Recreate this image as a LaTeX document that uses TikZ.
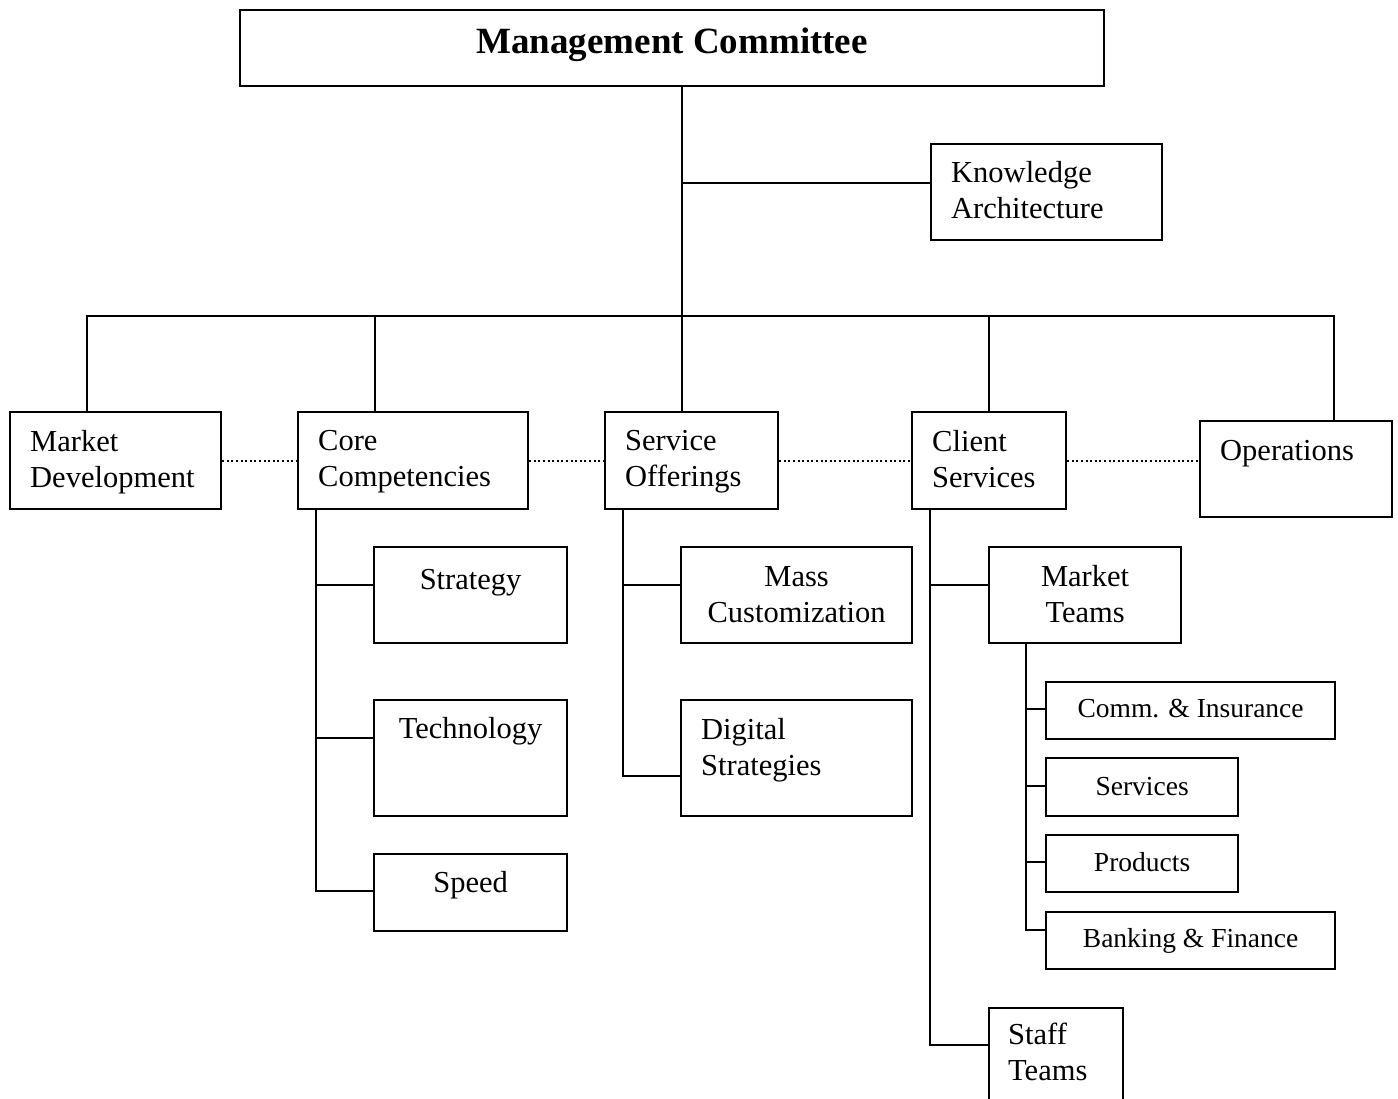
\documentclass[tikz,border=0pt]{standalone}
\usepackage{fontspec}
\setmainfont{Liberation Serif}
\usetikzlibrary{positioning}

\tikzset{
  orgbox/.style={draw, line width=2.2pt, inner sep=0pt, anchor=north west},
  boxtext/.style={font=\fontsize{30.5}{36}\selectfont, align=left, inner sep=0pt},
  subtext/.style={font=\fontsize{27.5}{33}\selectfont, align=center, inner sep=0pt},
  link/.style={line width=2pt},
  peer/.style={line width=2pt, dash pattern=on 2pt off 2.6pt}
}

\begin{document}
\begin{tikzpicture}[x=1pt,y=-1pt]
\useasboundingbox (0,0) rectangle (1398,1099);

% boxes
\foreach \n/\x/\y/\w/\h in {mc/239/9/864/76, ka/930/143/231/96,
    md/9/411/211/97, cc/297/411/230/97, so/604/411/173/97, cs/911/411/154/97, ops/1199/420/192/96,
    strat/373/546/193/96, tech/373/699/193/116, speed/373/853/193/77,
    mass/680/546/231/96, digital/680/699/231/116,
    mkt/988/546/192/96, staff/988/1007/134/110,
    comm/1045/681/289/57, serv/1045/757/192/58, prod/1045/834/192/57, bank/1045/911/289/57}
  \node[orgbox, minimum width=\w pt, minimum height=\h pt] (\n) at (\x,\y) {};

% texts
\node[font=\fontsize{37}{44}\selectfont\bfseries, inner sep=0pt, anchor=north] (mc-t) at ([shift={(0,19)}]mc.north) {Management Committee};
\node[boxtext, anchor=north west] (ka-t) at ([shift={(21,18)}]ka.north west) {Knowledge\\Architecture};
\node[boxtext, anchor=north west] (md-t) at ([shift={(21,19)}]md.north west) {Market\\Development};
\node[boxtext, anchor=north west] (cc-t) at ([shift={(21,19)}]cc.north west) {Core\\Competencies};
\node[boxtext, anchor=north west] (so-t) at ([shift={(21,19)}]so.north west) {Service\\Offerings};
\node[boxtext, anchor=north west] (cs-t) at ([shift={(21,19)}]cs.north west) {Client\\Services};
\node[boxtext, anchor=north west] (ops-t) at ([shift={(21,20)}]ops.north west) {Operations};
\node[boxtext, anchor=north] (strat-t) at ([shift={(0,23)}]strat.north) {Strategy};
\node[boxtext, anchor=north] (tech-t) at ([shift={(0,18)}]tech.north) {Technology};
\node[boxtext, anchor=north] (speed-t) at ([shift={(0,18)}]speed.north) {Speed};
\node[boxtext, align=center, anchor=north] (mass-t) at ([shift={(0,20)}]mass.north) {Mass\\Customization};
\node[boxtext, anchor=north west] (digital-t) at ([shift={(21,19)}]digital.north west) {Digital\\Strategies};
\node[boxtext, align=center, anchor=north] (mkt-t) at ([shift={(0,19)}]mkt.north) {Market\\Teams};
\node[boxtext, anchor=north west] (staff-t) at ([shift={(20,16)}]staff.north west) {Staff\\Teams};
\node[subtext, anchor=north] (comm-t) at ([shift={(0,18)}]comm.north) {Comm. \& Insurance};
\node[subtext, anchor=north] (serv-t) at ([shift={(0,20)}]serv.north) {Services};
\node[subtext, anchor=north] (prod-t) at ([shift={(0,18)}]prod.north) {Products};
\node[subtext, anchor=north] (bank-t) at ([shift={(0,17)}]bank.north) {Banking \& Finance};

% top level
\coordinate (trunk) at ([xshift=10pt]mc.south);
\coordinate (bus) at (0,316);
\draw[link] (trunk) -- (trunk |- so.north);
\draw[link] ([shift={(0,-9)}]ka.west) -| (trunk);
\coordinate (md-up) at ([shift={(-28.5,0)}]md.north);
\coordinate (cc-up) at ([shift={(-38,0)}]cc.north);
\coordinate (cs-up) at (cs.north);
\coordinate (ops-up) at ([shift={(38,0)}]ops.north);
\draw[link] (md-up) -- (md-up |- bus) -- (ops-up |- bus) -- (ops-up);
\foreach \n in {cc-up,cs-up}
  \draw[link] (\n) -- (\n |- bus);

% dotted links between divisions
\draw[peer] (md) -- (cc);
\draw[peer] (cc) -- (so);
\draw[peer] (so) -- (cs);
\draw[peer] (cs.east) -- (cs.east -| ops.west);

% sub units
\coordinate (cc-down) at ([shift={(19,0)}]cc.south west);
\coordinate (so-down) at ([shift={(19,0)}]so.south west);
\coordinate (cs-down) at ([shift={(19,0)}]cs.south west);
\coordinate (mkt-down) at ([shift={(38,0)}]mkt.south west);
\foreach \n/\dy in {strat/39,tech/39,speed/38}
  \draw[link] ([shift={(0,\dy)}]\n.north west) -| (cc-down);
\foreach \n/\dy in {mass/39,digital/77}
  \draw[link] ([shift={(0,\dy)}]\n.north west) -| (so-down);
\foreach \n/\dy in {mkt/39,staff/38}
  \draw[link] ([shift={(0,\dy)}]\n.north west) -| (cs-down);
\foreach \n/\dy in {comm/28,serv/29,prod/28,bank/19}
  \draw[link] ([shift={(0,\dy)}]\n.north west) -| (mkt-down);
\end{tikzpicture}
\end{document}
